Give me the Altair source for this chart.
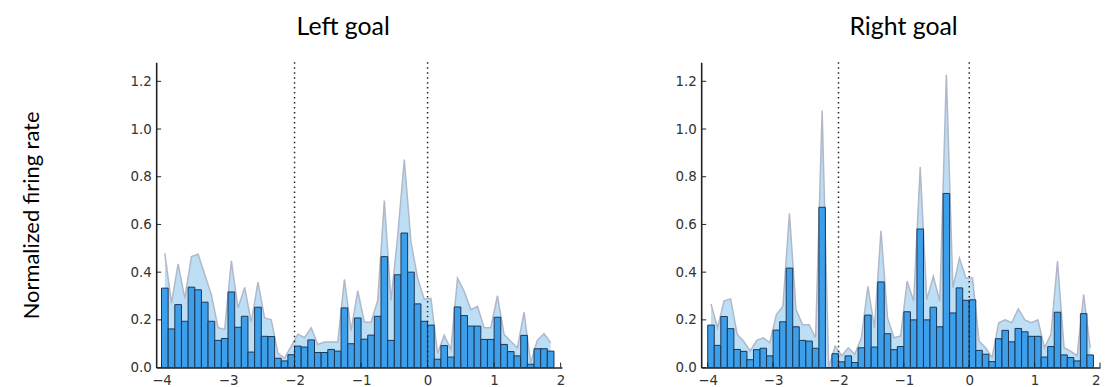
import altair as alt
import pandas as pd

# ---- data -------------------------------------------------------------
bin_width = 0.1
bin_start = [round(-4.0 + bin_width * i, 2) for i in range(59)]

left_mean = [0.333, 0.162, 0.264, 0.194, 0.337, 0.326, 0.274, 0.194, 0.114, 0.122,
             0.317, 0.169, 0.215, 0.065, 0.253, 0.131, 0.130, 0.039, 0.028, 0.054,
             0.090, 0.086, 0.116, 0.063, 0.063, 0.076, 0.069, 0.250, 0.100, 0.208,
             0.119, 0.136, 0.215, 0.465, 0.114, 0.389, 0.564, 0.400, 0.267, 0.194,
             0.178, 0.035, 0.092, 0.044, 0.254, 0.218, 0.174, 0.174, 0.118, 0.118,
             0.211, 0.097, 0.067, 0.049, 0.135, 0.014, 0.079, 0.079, 0.069]
left_upper = [0.479, 0.270, 0.435, 0.290, 0.465, 0.475, 0.390, 0.305, 0.167, 0.160,
              0.447, 0.250, 0.336, 0.190, 0.358, 0.208, 0.200, 0.060, 0.040, 0.090,
              0.140, 0.125, 0.167, 0.097, 0.107, 0.107, 0.107, 0.370, 0.155, 0.322,
              0.190, 0.190, 0.280, 0.700, 0.280, 0.550, 0.872, 0.527, 0.375, 0.286,
              0.290, 0.060, 0.136, 0.076, 0.375, 0.320, 0.243, 0.257, 0.167, 0.167,
              0.301, 0.139, 0.110, 0.083, 0.232, 0.020, 0.114, 0.142, 0.104]

right_mean = [0.178, 0.093, 0.214, 0.163, 0.076, 0.068, 0.033, 0.075, 0.081, 0.049,
              0.157, 0.192, 0.417, 0.171, 0.114, 0.111, 0.081, 0.672, 0.000, 0.058,
              0.024, 0.049, 0.021, 0.083, 0.220, 0.086, 0.359, 0.142, 0.075, 0.088,
              0.234, 0.200, 0.581, 0.200, 0.253, 0.171, 0.730, 0.229, 0.334, 0.282,
              0.284, 0.072, 0.056, 0.025, 0.121, 0.156, 0.108, 0.164, 0.150, 0.131,
              0.131, 0.044, 0.088, 0.232, 0.053, 0.042, 0.028, 0.226, 0.053]
right_upper = [0.267, 0.167, 0.280, 0.288, 0.140, 0.110, 0.070, 0.114, 0.125, 0.104,
               0.222, 0.257, 0.647, 0.243, 0.180, 0.180, 0.125, 1.078, 0.000, 0.090,
               0.050, 0.083, 0.056, 0.125, 0.340, 0.167, 0.573, 0.208, 0.125, 0.132,
               0.362, 0.278, 0.841, 0.285, 0.382, 0.278, 1.227, 0.334, 0.459, 0.375,
               0.375, 0.111, 0.083, 0.042, 0.188, 0.200, 0.188, 0.246, 0.200, 0.188,
               0.200, 0.083, 0.139, 0.447, 0.083, 0.069, 0.049, 0.306, 0.083]

x_ticks = [-4, -3, -2, -1, 0, 1, 2]
y_ticks = [0.0, 0.2, 0.4, 0.6, 0.8, 1.0, 1.2]
event_times = [-2, 0]
titles = ["Left goal", "Right goal"]
y_title = "Normalized firing rate"

# ---- style ------------------------------------------------------------
H = 307
Y_DOMAIN = [0, 1.28]
AXIS_COLOR = "#222222"
LABEL_COLOR = "#333333"
TICK_FONT = 13.5
TITLE_FONT = "Lato"


def panel(mean, upper, title, with_ytitle, title_dx, width, x_domain, flush):
    df = pd.DataFrame({
        "start": bin_start,
        "end": [round(s + bin_width, 2) for s in bin_start],
        "center": [round(s + bin_width / 2, 3) for s in bin_start],
        "mean": mean,
        "upper": upper,
    })
    xs = alt.Scale(domain=x_domain, nice=False, zero=False)
    ys = alt.Scale(domain=Y_DOMAIN, nice=False)
    xaxis_kw = dict(values=x_ticks, format="d", grid=False, tickSize=0,
                    labelPadding=6, domainColor=AXIS_COLOR, domainWidth=1.6,
                    labelFont="DejaVu Sans", labelFontSize=TICK_FONT,
                    labelColor=LABEL_COLOR, title=None)
    if flush:
        xaxis_kw["labelFlush"] = True
    xaxis = alt.Axis(**xaxis_kw)
    yaxis_kw = dict(values=y_ticks, format=".1f", grid=False, tickSize=0,
                    labelPadding=5, domainColor=AXIS_COLOR, domainWidth=1.6,
                    labelFont="DejaVu Sans", labelFontSize=TICK_FONT,
                    labelColor=LABEL_COLOR)
    if with_ytitle:
        yaxis = alt.Axis(title=y_title, titleFont=TITLE_FONT, titleFontSize=22,
                         titleFontWeight="normal", titleColor="black",
                         titlePadding=86.5, **yaxis_kw)
    else:
        yaxis = alt.Axis(title=None, **yaxis_kw)

    base = alt.Chart(df)
    area = base.mark_area(color="#b8ddf6", opacity=0.95).encode(
        x=alt.X("center:Q", scale=xs, axis=xaxis),
        y=alt.Y("upper:Q", scale=ys, axis=yaxis),
        y2=alt.datum(0),
    )
    edge = base.mark_line(color="#b0b8ca", strokeWidth=1.5).encode(
        x=alt.X("center:Q", scale=xs),
        y=alt.Y("upper:Q", scale=ys),
    )
    bars = base.mark_bar(color="#3d9ee9", stroke="#1c3553", strokeWidth=1).encode(
        x=alt.X("start:Q", scale=xs),
        x2="end:Q",
        y=alt.Y("mean:Q", scale=ys),
        y2=alt.datum(0),
    )
    events = alt.Chart(pd.DataFrame({"t": event_times})).mark_rule(
        color=AXIS_COLOR, strokeWidth=1.5, strokeDash=[1.5, 3.5]
    ).encode(x=alt.X("t:Q", scale=xs), y=alt.value(0), y2=alt.value(H))
    yt = alt.Chart(pd.DataFrame({"v": y_ticks})).mark_rule(
        color=AXIS_COLOR, strokeWidth=1
    ).encode(y=alt.Y("v:Q", scale=ys), x=alt.value(0), x2=alt.value(5))
    xt = alt.Chart(pd.DataFrame({"v": x_ticks})).mark_rule(
        color=AXIS_COLOR, strokeWidth=1
    ).encode(x=alt.X("v:Q", scale=xs), y=alt.value(H), y2=alt.value(H - 5))

    return alt.layer(area, edge, bars, events, yt, xt).properties(
        width=width, height=H,
        title=alt.TitleParams(title, font=TITLE_FONT, fontSize=25,
                              fontWeight="normal", color="black",
                              frame="group", anchor="middle", dx=title_dx,
                              offset=21.5),
    )


left = panel(left_mean, left_upper, titles[0], True, -16, 408, [-4.08, 2.02], False)
right = panel(right_mean, right_upper, titles[1], False, 3, 401, [-4.1, 2.0], True)

chart = alt.hconcat(left, right, spacing=110).properties(
    padding={"left": 13, "top": 5.5, "right": 0, "bottom": 0}
).configure_view(stroke=None)

chart.save("out.html", embed_options={"renderer": "svg", "actions": False})
